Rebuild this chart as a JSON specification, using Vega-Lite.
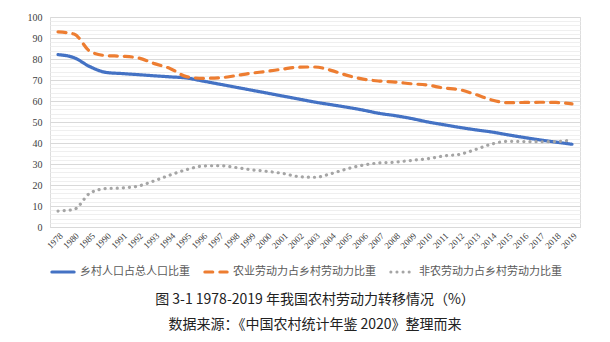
{
  "$schema": "https://vega.github.io/schema/vega-lite/v6.json",
  "width": 530,
  "height": 210,
  "autosize": "none",
  "padding": {"left": 50, "top": 17, "right": 30, "bottom": 115},
  "background": "white",
  "title": {
    "text": "图 3-1 1978-2019 年我国农村劳动力转移情况（%）",
    "subtitle": "数据来源：《中国农村统计年鉴 2020》整理而来",
    "orient": "bottom",
    "anchor": "middle",
    "font": "Noto Sans CJK SC",
    "fontSize": 14,
    "fontWeight": "normal",
    "color": "#222222",
    "subtitleFont": "Noto Sans CJK SC",
    "subtitleFontSize": 14,
    "subtitleColor": "#222222",
    "subtitlePadding": 11,
    "offset": 15
  },
  "data": {
    "values": [
      {"year": "1978", "series": "乡村人口占总人口比重", "value": 82.08},
      {"year": "1980", "series": "乡村人口占总人口比重", "value": 80.61},
      {"year": "1985", "series": "乡村人口占总人口比重", "value": 76.29},
      {"year": "1990", "series": "乡村人口占总人口比重", "value": 73.59},
      {"year": "1991", "series": "乡村人口占总人口比重", "value": 73.06},
      {"year": "1992", "series": "乡村人口占总人口比重", "value": 72.54},
      {"year": "1993", "series": "乡村人口占总人口比重", "value": 71.99},
      {"year": "1994", "series": "乡村人口占总人口比重", "value": 71.49},
      {"year": "1995", "series": "乡村人口占总人口比重", "value": 70.96},
      {"year": "1996", "series": "乡村人口占总人口比重", "value": 69.52},
      {"year": "1997", "series": "乡村人口占总人口比重", "value": 68.09},
      {"year": "1998", "series": "乡村人口占总人口比重", "value": 66.65},
      {"year": "1999", "series": "乡村人口占总人口比重", "value": 65.22},
      {"year": "2000", "series": "乡村人口占总人口比重", "value": 63.78},
      {"year": "2001", "series": "乡村人口占总人口比重", "value": 62.34},
      {"year": "2002", "series": "乡村人口占总人口比重", "value": 60.91},
      {"year": "2003", "series": "乡村人口占总人口比重", "value": 59.47},
      {"year": "2004", "series": "乡村人口占总人口比重", "value": 58.24},
      {"year": "2005", "series": "乡村人口占总人口比重", "value": 57.01},
      {"year": "2006", "series": "乡村人口占总人口比重", "value": 55.66},
      {"year": "2007", "series": "乡村人口占总人口比重", "value": 54.11},
      {"year": "2008", "series": "乡村人口占总人口比重", "value": 53.01},
      {"year": "2009", "series": "乡村人口占总人口比重", "value": 51.66},
      {"year": "2010", "series": "乡村人口占总人口比重", "value": 50.05},
      {"year": "2011", "series": "乡村人口占总人口比重", "value": 48.73},
      {"year": "2012", "series": "乡村人口占总人口比重", "value": 47.43},
      {"year": "2013", "series": "乡村人口占总人口比重", "value": 46.27},
      {"year": "2014", "series": "乡村人口占总人口比重", "value": 45.23},
      {"year": "2015", "series": "乡村人口占总人口比重", "value": 43.9},
      {"year": "2016", "series": "乡村人口占总人口比重", "value": 42.65},
      {"year": "2017", "series": "乡村人口占总人口比重", "value": 41.48},
      {"year": "2018", "series": "乡村人口占总人口比重", "value": 40.42},
      {"year": "2019", "series": "乡村人口占总人口比重", "value": 39.4},
      {"year": "1978", "series": "农业劳动力占乡村劳动力比重", "value": 92.9},
      {"year": "1980", "series": "农业劳动力占乡村劳动力比重", "value": 91.9},
      {"year": "1985", "series": "农业劳动力占乡村劳动力比重", "value": 83.6},
      {"year": "1990", "series": "农业劳动力占乡村劳动力比重", "value": 81.6},
      {"year": "1991", "series": "农业劳动力占乡村劳动力比重", "value": 81.3},
      {"year": "1992", "series": "农业劳动力占乡村劳动力比重", "value": 80.5},
      {"year": "1993", "series": "农业劳动力占乡村劳动力比重", "value": 77.8},
      {"year": "1994", "series": "农业劳动力占乡村劳动力比重", "value": 75.4},
      {"year": "1995", "series": "农业劳动力占乡村劳动力比重", "value": 71.6},
      {"year": "1996", "series": "农业劳动力占乡村劳动力比重", "value": 70.8},
      {"year": "1997", "series": "农业劳动力占乡村劳动力比重", "value": 71.0},
      {"year": "1998", "series": "农业劳动力占乡村劳动力比重", "value": 72.0},
      {"year": "1999", "series": "农业劳动力占乡村劳动力比重", "value": 73.2},
      {"year": "2000", "series": "农业劳动力占乡村劳动力比重", "value": 74.1},
      {"year": "2001", "series": "农业劳动力占乡村劳动力比重", "value": 75.2},
      {"year": "2002", "series": "农业劳动力占乡村劳动力比重", "value": 76.1},
      {"year": "2003", "series": "农业劳动力占乡村劳动力比重", "value": 76.2},
      {"year": "2004", "series": "农业劳动力占乡村劳动力比重", "value": 74.6},
      {"year": "2005", "series": "农业劳动力占乡村劳动力比重", "value": 72.2},
      {"year": "2006", "series": "农业劳动力占乡村劳动力比重", "value": 70.4},
      {"year": "2007", "series": "农业劳动力占乡村劳动力比重", "value": 69.5},
      {"year": "2008", "series": "农业劳动力占乡村劳动力比重", "value": 69.0},
      {"year": "2009", "series": "农业劳动力占乡村劳动力比重", "value": 68.2},
      {"year": "2010", "series": "农业劳动力占乡村劳动力比重", "value": 67.6},
      {"year": "2011", "series": "农业劳动力占乡村劳动力比重", "value": 66.2},
      {"year": "2012", "series": "农业劳动力占乡村劳动力比重", "value": 65.4},
      {"year": "2013", "series": "农业劳动力占乡村劳动力比重", "value": 63.1},
      {"year": "2014", "series": "农业劳动力占乡村劳动力比重", "value": 60.5},
      {"year": "2015", "series": "农业劳动力占乡村劳动力比重", "value": 59.2},
      {"year": "2016", "series": "农业劳动力占乡村劳动力比重", "value": 59.3},
      {"year": "2017", "series": "农业劳动力占乡村劳动力比重", "value": 59.4},
      {"year": "2018", "series": "农业劳动力占乡村劳动力比重", "value": 59.3},
      {"year": "2019", "series": "农业劳动力占乡村劳动力比重", "value": 58.6},
      {"year": "1978", "series": "非农劳动力占乡村劳动力比重", "value": 7.6},
      {"year": "1980", "series": "非农劳动力占乡村劳动力比重", "value": 8.4},
      {"year": "1985", "series": "非农劳动力占乡村劳动力比重", "value": 16.2},
      {"year": "1990", "series": "非农劳动力占乡村劳动力比重", "value": 18.3},
      {"year": "1991", "series": "非农劳动力占乡村劳动力比重", "value": 18.6},
      {"year": "1992", "series": "非农劳动力占乡村劳动力比重", "value": 19.5},
      {"year": "1993", "series": "非农劳动力占乡村劳动力比重", "value": 22.0},
      {"year": "1994", "series": "非农劳动力占乡村劳动力比重", "value": 24.8},
      {"year": "1995", "series": "非农劳动力占乡村劳动力比重", "value": 27.3},
      {"year": "1996", "series": "非农劳动力占乡村劳动力比重", "value": 29.0},
      {"year": "1997", "series": "非农劳动力占乡村劳动力比重", "value": 29.2},
      {"year": "1998", "series": "非农劳动力占乡村劳动力比重", "value": 28.4},
      {"year": "1999", "series": "非农劳动力占乡村劳动力比重", "value": 27.3},
      {"year": "2000", "series": "非农劳动力占乡村劳动力比重", "value": 26.5},
      {"year": "2001", "series": "非农劳动力占乡村劳动力比重", "value": 25.5},
      {"year": "2002", "series": "非农劳动力占乡村劳动力比重", "value": 24.0},
      {"year": "2003", "series": "非农劳动力占乡村劳动力比重", "value": 23.7},
      {"year": "2004", "series": "非农劳动力占乡村劳动力比重", "value": 25.4},
      {"year": "2005", "series": "非农劳动力占乡村劳动力比重", "value": 27.7},
      {"year": "2006", "series": "非农劳动力占乡村劳动力比重", "value": 29.5},
      {"year": "2007", "series": "非农劳动力占乡村劳动力比重", "value": 30.5},
      {"year": "2008", "series": "非农劳动力占乡村劳动力比重", "value": 30.9},
      {"year": "2009", "series": "非农劳动力占乡村劳动力比重", "value": 31.7},
      {"year": "2010", "series": "非农劳动力占乡村劳动力比重", "value": 32.5},
      {"year": "2011", "series": "非农劳动力占乡村劳动力比重", "value": 33.8},
      {"year": "2012", "series": "非农劳动力占乡村劳动力比重", "value": 34.6},
      {"year": "2013", "series": "非农劳动力占乡村劳动力比重", "value": 36.9},
      {"year": "2014", "series": "非农劳动力占乡村劳动力比重", "value": 39.5},
      {"year": "2015", "series": "非农劳动力占乡村劳动力比重", "value": 40.8},
      {"year": "2016", "series": "非农劳动力占乡村劳动力比重", "value": 40.7},
      {"year": "2017", "series": "非农劳动力占乡村劳动力比重", "value": 40.6},
      {"year": "2018", "series": "非农劳动力占乡村劳动力比重", "value": 40.7},
      {"year": "2019", "series": "非农劳动力占乡村劳动力比重", "value": 41.4}
    ]
  },
  "mark": {"type": "line", "interpolate": "monotone", "strokeWidth": 3.2, "strokeCap": "round"},
  "encoding": {
    "x": {
      "field": "year",
      "type": "ordinal",
      "sort": null,
      "scale": {"type": "point", "padding": 0.5},
      "axis": {
        "title": null,
        "labelAngle": -45,
        "labelFont": "Liberation Serif",
        "labelFontSize": 9,
        "labelColor": "#404040",
        "ticks": false,
        "domain": true,
        "domainColor": "#d9d9d9",
        "grid": false,
        "labelPadding": 4
      }
    },
    "y": {
      "field": "value",
      "type": "quantitative",
      "scale": {"domain": [0, 100], "nice": false},
      "axis": {
        "title": null,
        "values": [0, 2, 4, 6, 8, 10, 12, 14, 16, 18, 20, 22, 24, 26, 28, 30, 32, 34, 36, 38, 40, 42, 44, 46, 48, 50, 52, 54, 56, 58, 60, 62, 64, 66, 68, 70, 72, 74, 76, 78, 80, 82, 84, 86, 88, 90, 92, 94, 96, 98, 100],
        "labelExpr": "datum.value % 10 === 0 ? datum.label : ''",
        "labelFont": "Liberation Serif",
        "labelFontSize": 10,
        "labelColor": "#404040",
        "labelPadding": 8,
        "ticks": false,
        "domain": false,
        "grid": true,
        "gridColor": {"condition": {"test": "datum.value % 10 === 0", "value": "#d9d9d9"}, "value": "#efefef"},
        "gridWidth": 1
      }
    },
    "color": {
      "field": "series",
      "type": "nominal",
      "sort": null,
      "scale": {
        "domain": ["乡村人口占总人口比重", "农业劳动力占乡村劳动力比重", "非农劳动力占乡村劳动力比重"],
        "range": ["#4472C4", "#ED7D31", "#A5A5A5"]
      },
      "legend": {
        "title": null,
        "orient": "bottom",
        "direction": "horizontal",
        "symbolType": "stroke",
        "symbolStrokeWidth": 3,
        "symbolSize": 500,
        "labelFont": "Noto Sans CJK SC",
        "labelFontSize": 11,
        "labelColor": "#595959",
        "columnPadding": 8,
        "offset": 8,
        "encode": {"symbols": {"update": {"strokeCap": {"value": "round"}}}}
      }
    },
    "strokeDash": {
      "field": "series",
      "type": "nominal",
      "sort": null,
      "scale": {
        "domain": ["乡村人口占总人口比重", "农业劳动力占乡村劳动力比重", "非农劳动力占乡村劳动力比重"],
        "range": [[1, 0], [8, 7], [0.1, 6]]
      },
      "legend": {
        "title": null,
        "orient": "bottom",
        "direction": "horizontal",
        "symbolType": "stroke",
        "symbolStrokeWidth": 3,
        "symbolSize": 500,
        "labelFont": "Noto Sans CJK SC",
        "labelFontSize": 11,
        "labelColor": "#595959",
        "columnPadding": 8,
        "offset": 8,
        "encode": {"symbols": {"update": {"strokeCap": {"value": "round"}}}}
      }
    }
  }
}
